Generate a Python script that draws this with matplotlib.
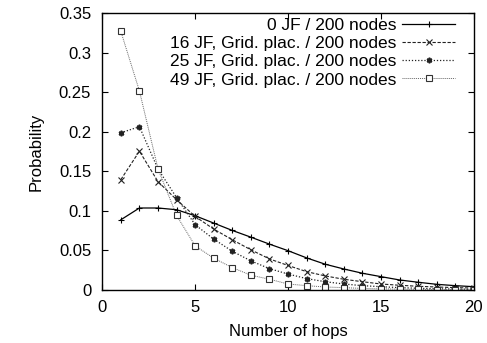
import matplotlib
matplotlib.use("Agg")
import matplotlib.pyplot as plt

plt.rcParams['font.family'] = ['Liberation Sans', 'DejaVu Sans']

hops = list(range(1, 21))

jf0 = [0.0888, 0.1037, 0.1037, 0.1015, 0.0939, 0.0846, 0.0753, 0.0668, 0.0580, 0.0497,
       0.0406, 0.0326, 0.0266, 0.0212, 0.0169, 0.0127, 0.0098, 0.0072, 0.0055, 0.0042]
jf16 = [0.1396, 0.1755, 0.1370, 0.1142, 0.0930, 0.0770, 0.0635, 0.0508, 0.0393, 0.0310,
        0.0232, 0.0178, 0.0136, 0.0105, 0.0076, 0.0060, 0.0047, 0.0038, 0.0030, 0.0025]
jf25 = [0.1988, 0.2065, 0.1530, 0.1168, 0.0825, 0.0643, 0.0490, 0.0368, 0.0270, 0.0202,
        0.0144, 0.0105, 0.0076, 0.0055, 0.0042, 0.0030, 0.0022, 0.0016, 0.0012, 0.0009]
jf49 = [0.3270, 0.2517, 0.1532, 0.0943, 0.0558, 0.0402, 0.0283, 0.0187, 0.0136, 0.0076,
        0.0055, 0.0038, 0.0030, 0.0020, 0.0015, 0.0011, 0.0008, 0.0006, 0.0005, 0.0004]

labels = ["0 JF / 200 nodes",
          "16 JF, Grid. plac. / 200 nodes",
          "25 JF, Grid. plac. / 200 nodes",
          "49 JF, Grid. plac. / 200 nodes"]

x_ticks = [0, 5, 10, 15, 20]
y_ticks = [0, 0.05, 0.1, 0.15, 0.2, 0.25, 0.3, 0.35]
y_ticklabels = ["0", "0.05", "0.1", "0.15", "0.2", "0.25", "0.3", "0.35"]

FS = 12

fig = plt.figure(figsize=(4.87, 3.43), dpi=100)
ax = fig.add_axes([0.2100, 0.1545, 0.7630, 0.8070])

ax.plot(hops, jf0, color='black', lw=0.9, ls='-', marker='+', ms=5, mew=0.8, label=labels[0])
ax.plot(hops, jf16, color='#222222', lw=0.8, ls=(0, (3, 1.5)), marker='x', ms=3.8, mew=0.8, label=labels[1])
ax.plot(hops, jf25, color='#222222', lw=0.9, ls=(0, (1, 1.5)), marker=(6, 2, 0), ms=4, mew=1.2, label=labels[2])
ax.plot(hops, jf49, color='#666666', lw=0.7, ls=(0, (1, 1)), marker='s', ms=3.8, mew=0.8,
        mfc='white', mec='#333333', label=labels[3])

ax.set_xlim(0, 20)
ax.set_ylim(0, 0.35)
ax.set_xticks(x_ticks)
ax.set_yticks(y_ticks)
ax.set_yticklabels(y_ticklabels)
ax.tick_params(direction='in', top=True, right=True, length=4, width=0.8, labelsize=FS)
ax.tick_params(axis='x', pad=7)
ax.tick_params(axis='y', pad=8)
for s in ax.spines.values():
    s.set_linewidth(1.0)

ax.set_xlabel("Number of hops", fontsize=FS, labelpad=7)
ax.set_ylabel("Probability", fontsize=FS, labelpad=11)

leg = ax.legend(loc='upper right', bbox_to_anchor=(0.962, 1.0), frameon=False,
                markerfirst=False, fontsize=12.5, handlelength=3.05, labelspacing=0.18,
                borderaxespad=0.1, borderpad=0.15, handletextpad=0.35)
for t in leg.get_texts():
    t.set_ha('right')
leg._legend_box.align = "right"

fig.savefig("out.png", dpi=100)
